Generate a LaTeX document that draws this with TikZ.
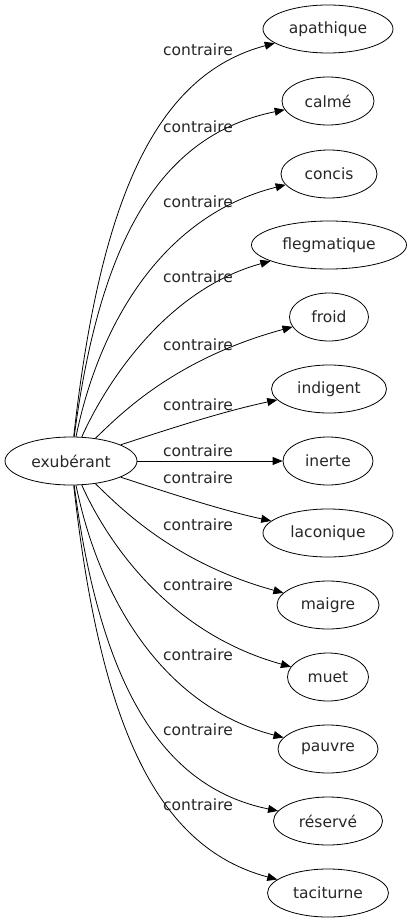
\documentclass[tikz,border=0pt]{standalone}
\usepackage{fontspec}
\setmainfont{DejaVu Sans}
\usetikzlibrary{shapes.geometric,arrows.meta}
\begin{document}
\begin{tikzpicture}[x=1pt,y=-1pt,
  word/.style={draw, ellipse, line width=0.8pt, inner sep=0pt, minimum height=48pt, font=\fontsize{15.5}{18}\selectfont, text=black!85},
  rel/.style={font=\fontsize{15.5}{18}\selectfont, inner sep=0pt, text=black!85},
  link/.style={draw, line width=0.8pt, -{Triangle[length=10pt,width=8pt]}}]
\useasboundingbox (0,0) rectangle (410,923);
\node[word, minimum width=132pt] (src) at (71,461) {exubérant};
\node[word, minimum width=130pt] (n1) at (328,29) {apathique};
\node[word, minimum width=92pt] (n2) at (328,101) {calmé};
\node[word, minimum width=96pt] (n3) at (329,174) {concis};
\node[word, minimum width=155pt] (n4) at (329,245) {flegmatique};
\node[word, minimum width=79pt] (n5) at (329,317) {froid};
\node[word, minimum width=115pt] (n6) at (329,389) {indigent};
\node[word, minimum width=90pt] (n7) at (328,461) {inerte};
\node[word, minimum width=130pt] (n8) at (328,533) {laconique};
\node[word, minimum width=102pt] (n9) at (328,605) {maigre};
\node[word, minimum width=81pt] (n10) at (328,677) {muet};
\node[word, minimum width=100pt] (n11) at (328,749) {pauvre};
\node[word, minimum width=109pt] (n12) at (328,821) {réservé};
\node[word, minimum width=121pt] (n13) at (328,893) {taciturne};
\draw[link] (src) .. controls (100,200) and (155,75) .. (n1);
\draw[link] (src) .. controls (100,240) and (160,135) .. (n2);
\draw[link] (src) .. controls (100,320) and (165,215) .. (n3);
\draw[link] (src) .. controls (105,385) and (165,290) .. (n4);
\draw[link] (src) .. controls (115,420) and (170,360) .. (n5);
\draw[link] (src) .. controls (160,432) and (220,412) .. (n6);
\draw[link] (src) -- (n7);
\draw[link] (src) .. controls (160,490) and (220,510) .. (n8);
\draw[link] (src) .. controls (115,502) and (170,562) .. (n9);
\draw[link] (src) .. controls (105,537) and (165,632) .. (n10);
\draw[link] (src) .. controls (100,602) and (165,707) .. (n11);
\draw[link] (src) .. controls (100,682) and (160,787) .. (n12);
\draw[link] (src) .. controls (100,722) and (155,847) .. (n13);
\node[rel] (l1) at (198,50) {contraire};
\node[rel] (l2) at (198,127) {contraire};
\node[rel] (l3) at (198,202) {contraire};
\node[rel] (l4) at (198,277) {contraire};
\node[rel] (l5) at (198,345) {contraire};
\node[rel] (l6) at (198,405) {contraire};
\node[rel] (l7) at (198,451) {contraire};
\node[rel] (l8) at (198,478) {contraire};
\node[rel] (l9) at (198,525) {contraire};
\node[rel] (l10) at (198,585) {contraire};
\node[rel] (l11) at (198,655) {contraire};
\node[rel] (l12) at (198,730) {contraire};
\node[rel] (l13) at (198,805) {contraire};
\end{tikzpicture}
\end{document}
